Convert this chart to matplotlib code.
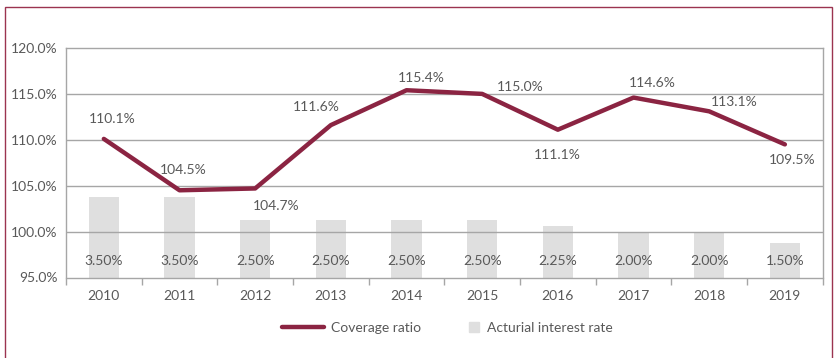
import matplotlib
matplotlib.use("Agg")
import matplotlib.pyplot as plt
from matplotlib.patches import Rectangle
from matplotlib.lines import Line2D
import numpy as np

years = ["2010", "2011", "2012", "2013", "2014", "2015", "2016", "2017", "2018", "2019"]
coverage = [110.1, 104.5, 104.7, 111.6, 115.4, 115.0, 111.1, 114.6, 113.1, 109.5]
interest = [3.50, 3.50, 2.50, 2.50, 2.50, 2.50, 2.25, 2.00, 2.00, 1.50]
yticks = [95, 100, 105, 110, 115, 120]

# label offsets in pixels (style)
offsets = [(8, 20), (4, 20), (21, -18), (-15, 18), (15, 12), (38, 7), (-1, -25), (19, 15), (25, 9), (7, -16)]

LINE = "#8B2442"
BAR = "#dfdfdf"
TXT = "#595959"
GRID = "#a6a6a6"
plt.rcParams['font.family'] = ['Lato', 'DejaVu Sans']

fig = plt.figure(figsize=(8.36, 3.58), dpi=100)
ax = fig.add_axes([66/836, 1-277.5/358, (822.7-66)/836, (277.5-48)/358])
ax2 = ax.twinx()
ax.set_zorder(ax2.get_zorder() + 1)
ax.patch.set_visible(False)

x = np.arange(len(years))
ax2.bar(x, interest, width=0.4, color=BAR, zorder=2)
ax2.set_ylim(0, 10)
ax2.set_yticks([])
for s in ax2.spines.values():
    s.set_visible(False)

ax.plot(x, coverage, color=LINE, lw=3.2, solid_capstyle='round', solid_joinstyle='round', zorder=5)
ax.set_ylim(95, 120)
ax.set_xlim(-0.5, len(years) - 0.5)
ax.set_yticks(yticks)
ax.set_yticklabels([f"{v:.1f}%" for v in yticks], color=TXT, fontsize=10)
ax.tick_params(axis='y', length=0, pad=6)
for v in yticks[1:-1]:
    ax.axhline(v, color=GRID, lw=1.0, zorder=1)

ax.set_xticks(np.arange(-0.5, len(years), 1.0))
ax.set_xticklabels([])
ax.tick_params(axis='x', which='major', length=5, color=GRID, width=1)
ax.set_xticks(x, minor=True)
ax.set_xticklabels(years, minor=True, color=TXT, fontsize=10)
ax.tick_params(axis='x', which='minor', length=0, pad=9)

for s in ax.spines.values():
    s.set_color(GRID)
    s.set_linewidth(1.0)

for xi, v, (dx, dy) in zip(x, coverage, offsets):
    ax.annotate(f"{v:.1f}%", (xi, v), xytext=(dx, dy), textcoords='offset pixels',
                ha='center', va='center', color=TXT, fontsize=10, zorder=6)
for xi, v in zip(x, interest):
    ax.text(xi, 96.85, f"{v:.2f}%", ha='center', va='center', color=TXT, fontsize=10, zorder=6)

h1 = Line2D([0], [0], color=LINE, lw=3.2, solid_capstyle='round')
h2 = Line2D([0], [0], marker='s', color='none', markerfacecolor=BAR, markeredgecolor=BAR, markersize=7)
leg1 = fig.legend([h1], ["Coverage ratio"], loc='center left', bbox_to_anchor=(282/836, 1-328/358),
                  frameon=False, fontsize=10, labelcolor=TXT, handlelength=3.0, handletextpad=0.5,
                  borderpad=0, borderaxespad=0)
leg2 = fig.legend([h2], ["Acturial interest rate"], loc='center left', bbox_to_anchor=(463/836, 1-328/358),
                  frameon=False, fontsize=10, labelcolor=TXT, handlelength=1.6, handletextpad=0.1,
                  borderpad=0, borderaxespad=0)

fig.patches.append(Rectangle((5/836, -0.05), (832-5)/836, 1.05 - 7/358, transform=fig.transFigure,
                             fill=False, edgecolor="#9b3350", lw=1.0))

fig.savefig("out.png", dpi=100)
